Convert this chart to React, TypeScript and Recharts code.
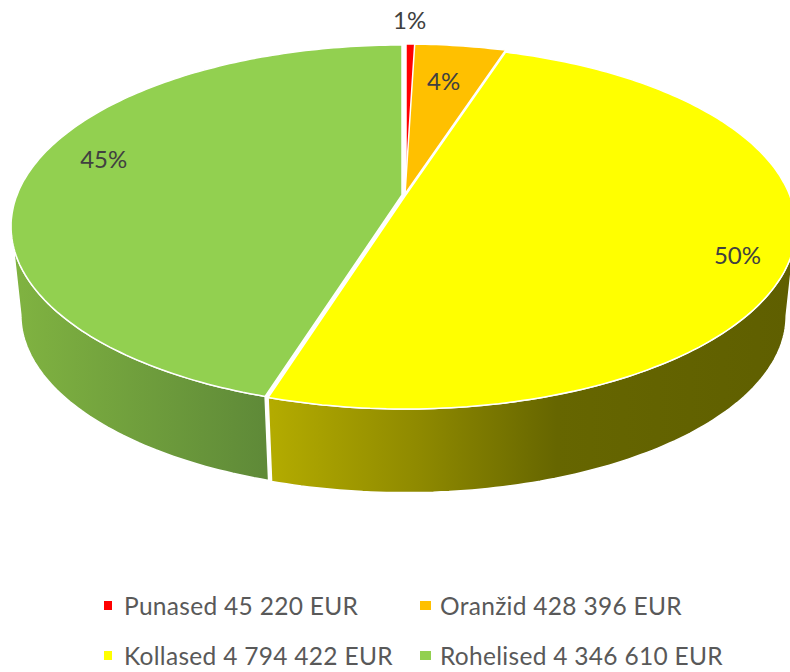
import React from "react";
import { PieChart, Pie, Legend } from "recharts";

const categories = ["Punased", "Oranžid", "Kollased", "Rohelised"];
const amounts = [45220, 428396, 4794422, 4346610];
const amountLabels = ["45 220", "428 396", "4 794 422", "4 346 610"];
const percentLabels = ["1%", "4%", "50%", "45%"];
const colors = ["#FF0000", "#FFC000", "#FFFF00", "#92D050"];
const wallFills = ["#990000", "#997300", "url(#wallYellow)", "url(#wallGreen)"];

const chartData = categories.map((name, i) => ({
  name,
  value: amounts[i],
  fill: colors[i],
}));

// fake 3D: a circle seen in perspective, k is how strong the foreshortening is
const K = 0.1736;
const Y_RATIO = 176 / 385;
const WALL_DROP = 89;
const WALL_SCALE = 0.975;
// the rim is widest here, the side wall stops at these angles
const WALL_FROM = 100;
const WALL_TO = 260;

// small per-slice offsets, the slices are pulled apart a little
const sliceShift = [
  [3, -1],
  [2, -1],
  [2, 1],
  [-1, 0],
];
const labelRadius = [1.194, 0.74, 0.872, 0.8];
const labelShiftX = [1, -2, -1, -1];
const labelShiftY = [-1, -1, 11, -16];

// t is degrees clockwise from 12 o'clock, r is 1 on the rim
const project = (t: number, r: number, cx: number, cy: number, rx: number) => {
  const a = (t * Math.PI) / 180;
  const u = Math.sin(a) * r;
  const v = -Math.cos(a) * r;
  const d = 1 - K * v;
  return [cx + (rx * u) / d, cy + (rx * Y_RATIO * v) / d];
};

const arcPoints = (a: number, b: number, cx: number, cy: number, rx: number) => {
  const pts: number[][] = [];
  const n = Math.max(2, Math.ceil(Math.abs(b - a)));
  for (let i = 0; i <= n; i++) {
    pts.push(project(a + ((b - a) * i) / n, 1, cx, cy, rx));
  }
  return pts;
};

const toPath = (pts: number[][]) =>
  pts.map((p, i) => `${i ? "L" : "M"}${p[0].toFixed(1)},${p[1].toFixed(1)}`).join(" ") + " Z";

const SliceShape = (props: any) => {
  const { cx, cy, outerRadius, startAngle, endAngle, fill, name } = props;
  const idx = categories.indexOf(name);
  const [sx, sy] = sliceShift[idx];
  const x0 = cx + sx;
  const y0 = cy + sy;
  const a = 90 - startAngle;
  const b = 90 - endAngle;
  const top = arcPoints(a, b, x0, y0, outerRadius);

  // the side is only seen on the near half of the pie
  const wa = Math.max(a, WALL_FROM);
  const wb = Math.min(b, WALL_TO);
  let wall = null;
  if (wb > wa) {
    const upper = arcPoints(wa, wb, x0, y0, outerRadius);
    const lower = upper
      .map((p) => [x0 + (p[0] - x0) * WALL_SCALE, y0 + WALL_DROP + (p[1] - y0) * WALL_SCALE])
      .reverse();
    wall = <path d={toPath([...upper, ...lower])} fill={wallFills[idx]} stroke="#fff" strokeWidth={1.5} />;
  }
  return (
    <g>
      {wall}
      <path d={toPath([[x0, y0], ...top])} fill={fill} stroke="#fff" strokeWidth={1.5} />
    </g>
  );
};

const renderLabel = (props: any) => {
  const { cx, cy, midAngle, outerRadius, index } = props;
  const [x, y] = project(90 - midAngle, labelRadius[index], cx, cy, outerRadius);
  return (
    <text
      x={x + labelShiftX[index]}
      y={y + labelShiftY[index]}
      fill="#404040"
      fontSize={24}
      fontFamily="Lato, sans-serif"
      textAnchor="middle"
      dominantBaseline="central"
    >
      {percentLabels[index]}
    </text>
  );
};

const renderLegend = () => (
  <div
    style={{
      display: "grid",
      gridTemplateColumns: "316px 350px",
      gridAutoRows: "50px",
      paddingLeft: 104,
      fontFamily: "Lato, sans-serif",
      fontSize: 24.5,
      color: "#595959",
      letterSpacing: 0.3,
    }}
  >
    {categories.map((name, i) => (
      <div key={name} style={{ display: "flex", alignItems: "center", whiteSpace: "nowrap" }}>
        <span
          style={{
            width: i % 2 ? 11 : 8,
            height: 9,
            marginRight: i % 2 ? 9 : 12,
            background: colors[i],
          }}
        />
        {`${name} ${amountLabels[i]} EUR`}
      </div>
    ))}
  </div>
);

export default function App() {
  return (
    <div style={{ position: "absolute", left: 0, top: 0, width: 790, height: 672, background: "#fff" }}>
      <PieChart width={790} height={672} margin={{ top: 0, right: 0, bottom: 0, left: 0 }}>
        <defs>
          <linearGradient id="wallYellow" gradientUnits="userSpaceOnUse" x1={272} y1={0} x2={790} y2={0}>
            <stop offset="0" stopColor="#B3AB00" />
            <stop offset="0.28" stopColor="#8F8A00" />
            <stop offset="0.55" stopColor="#666600" />
            <stop offset="1" stopColor="#5F5F00" />
          </linearGradient>
          <linearGradient id="wallGreen" gradientUnits="userSpaceOnUse" x1={15} y1={0} x2={263} y2={0}>
            <stop offset="0" stopColor="#80B341" />
            <stop offset="1" stopColor="#5F8A38" />
          </linearGradient>
        </defs>
        <Pie
          data={chartData}
          dataKey="value"
          nameKey="name"
          cx={403}
          cy={195}
          innerRadius={0}
          outerRadius={385}
          startAngle={90}
          endAngle={-270}
          stroke="none"
          shape={SliceShape}
          label={renderLabel}
          labelLine={false}
          isAnimationActive={false}
        />
        <Legend
          content={renderLegend}
          wrapperStyle={{ position: "absolute", left: 0, top: 580, width: 790, height: 100 }}
        />
      </PieChart>
    </div>
  );
}
